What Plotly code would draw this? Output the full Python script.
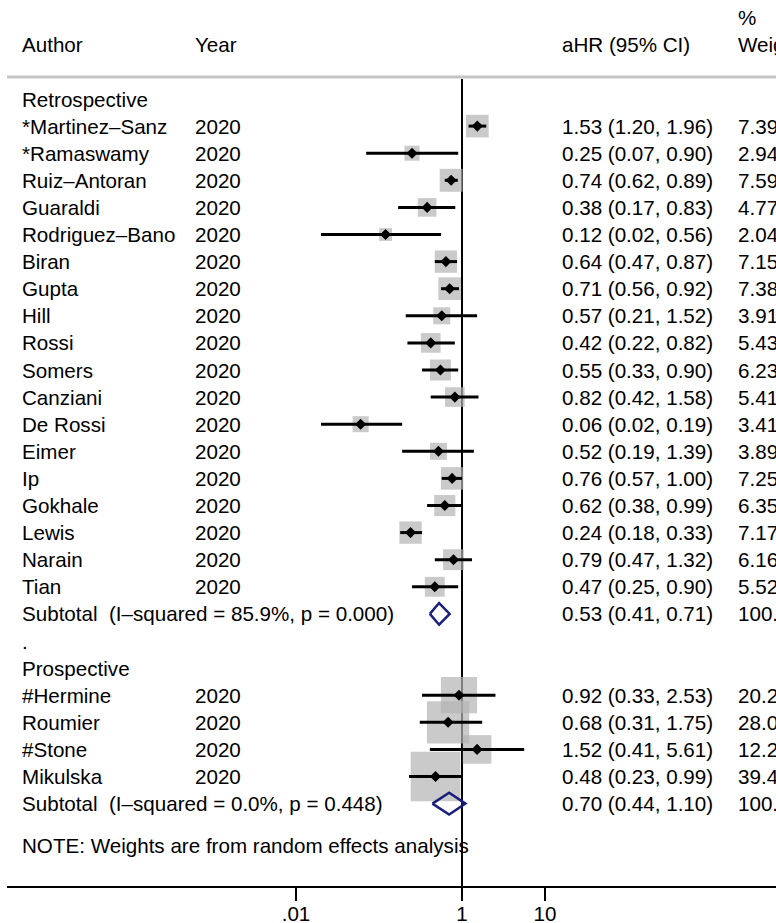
import plotly.graph_objects as go
import numpy as np

# ---------------- data ----------------
retro_authors = ["*Martinez–Sanz", "*Ramaswamy", "Ruiz–Antoran", "Guaraldi", "Rodriguez–Bano",
                 "Biran", "Gupta", "Hill", "Rossi", "Somers", "Canziani", "De Rossi", "Eimer",
                 "Ip", "Gokhale", "Lewis", "Narain", "Tian"]
retro_years = ["2020"] * 18
retro_hr = [1.53, 0.25, 0.74, 0.38, 0.12, 0.64, 0.71, 0.57, 0.42, 0.55, 0.82, 0.06, 0.52, 0.76, 0.62, 0.24, 0.79, 0.47]
retro_lo = [1.20, 0.07, 0.62, 0.17, 0.02, 0.47, 0.56, 0.21, 0.22, 0.33, 0.42, 0.02, 0.19, 0.57, 0.38, 0.18, 0.47, 0.25]
retro_hi = [1.96, 0.90, 0.89, 0.83, 0.56, 0.87, 0.92, 1.52, 0.82, 0.90, 1.58, 0.19, 1.39, 1.00, 0.99, 0.33, 1.32, 0.90]
retro_w = [7.39, 2.94, 7.59, 4.77, 2.04, 7.15, 7.38, 3.91, 5.43, 6.23, 5.41, 3.41, 3.89, 7.25, 6.35, 7.17, 6.16, 5.52]

pro_authors = ["#Hermine", "Roumier", "#Stone", "Mikulska"]
pro_years = ["2020"] * 4
pro_hr = [0.92, 0.68, 1.52, 0.48]
pro_lo = [0.33, 0.31, 0.41, 0.23]
pro_hi = [2.53, 1.75, 5.61, 0.99]
pro_w = [20.24, 28.05, 12.27, 39.44]

sub_labels = ["Subtotal  (I–squared = 85.9%, p = 0.000)", "Subtotal  (I–squared = 0.0%, p = 0.448)"]
sub_hr = [0.53, 0.70]
sub_lo = [0.41, 0.44]
sub_hi = [0.71, 1.10]
sub_w = [100.00, 100.00]

group_labels = ["Retrospective", "Prospective"]
header_labels = ["Author", "Year", "aHR (95% CI)", "%", "Weight"]
note_text = "NOTE: Weights are from random effects analysis"
tick_vals = [0.01, 1, 10]
tick_text = [".01", "1", "10"]

# ---------------- layout helpers ----------------
W, H = 776, 923
ML, MB = 7, 37
ROW0_PX, ROW_PX = 99.0, 27.1
def k_of(py):
    return (py - ROW0_PX) / ROW_PX
def xp(px):
    return (px - ML) / (W - ML)

x_lo_log = (ML - 462) / 83.0
x_hi_log = (W - 462) / 83.0

FONT = "Liberation Sans"
FS = 20.6

# rows
retro_rows = list(range(1, 19))
sub_rows = [19, 26]
pro_rows = list(range(22, 26))
group_rows = [0, 21]

all_hr = retro_hr + pro_hr
all_lo = retro_lo + pro_lo
all_hi = retro_hi + pro_hi
all_w = retro_w + pro_w
all_rows = retro_rows + pro_rows

fig = go.Figure()

# null line
fig.add_trace(go.Scatter(x=[1, 1], y=[k_of(79), k_of(H - MB)], mode="lines",
                         line=dict(color="black", width=2), hoverinfo="skip", showlegend=False,
                         cliponaxis=False))

# weight boxes
fig.add_trace(go.Scatter(x=all_hr, y=all_rows, mode="markers",
                         marker=dict(symbol="square", color="#b4b4b4",
                                     size=[7.6 * np.sqrt(w) + 2 for w in all_w], line=dict(width=0)),
                         hoverinfo="skip", showlegend=False))

# CI lines
cx, cy = [], []
for lo, hi, r in zip(all_lo, all_hi, all_rows):
    cx += [lo, hi, None]
    cy += [r, r, None]
fig.add_trace(go.Scatter(x=cx, y=cy, mode="lines", line=dict(color="black", width=3),
                         hoverinfo="skip", showlegend=False))

# point estimates
fig.add_trace(go.Scatter(x=all_hr, y=all_rows, mode="markers",
                         marker=dict(symbol="diamond", color="black", size=8.5, line=dict(width=0)),
                         hoverinfo="skip", showlegend=False))

# subtotal diamonds
h = 0.4
for est, lo, hi, r in zip(sub_hr, sub_lo, sub_hi, sub_rows):
    fig.add_trace(go.Scatter(x=[lo, est, hi, est, lo], y=[r, r - h, r, r + h, r], mode="lines",
                             line=dict(color="#1a1f7e", width=2.5), hoverinfo="skip", showlegend=False))

ann = []
def txt(px, row, s):
    ann.append(dict(x=xp(px), y=row, xref="paper", yref="y", text=s, showarrow=False,
                    xanchor="left", yanchor="middle", font=dict(family=FONT, size=FS, color="black")))

COL_AUTH, COL_YEAR, COL_EST, COL_W = 20, 193, 560, 736

# header
hr_row = k_of(44)
txt(COL_AUTH, hr_row, header_labels[0])
txt(COL_YEAR, hr_row, header_labels[1])
txt(COL_EST, hr_row, header_labels[2])
txt(COL_W, k_of(17), header_labels[3])
txt(COL_W, hr_row, header_labels[4])

for g, r in zip(group_labels, group_rows):
    txt(COL_AUTH, r, g)
for a, yv, e, lo, hi, w, r in zip(retro_authors + pro_authors, retro_years + pro_years,
                                   all_hr, all_lo, all_hi, all_w, all_rows):
    txt(COL_AUTH, r, a)
    txt(COL_YEAR, r, yv)
    txt(COL_EST, r, f"{e:.2f} ({lo:.2f}, {hi:.2f})")
    txt(COL_W, r, f"{w:.2f}")
for s, e, lo, hi, w, r in zip(sub_labels, sub_hr, sub_lo, sub_hi, sub_w, sub_rows):
    txt(COL_AUTH, r, s)
    txt(COL_EST, r, f"{e:.2f} ({lo:.2f}, {hi:.2f})")
    txt(COL_W, r, f"{w:.2f}")
txt(COL_AUTH, 20, ".")
txt(COL_AUTH, k_of(845), note_text)

shapes = [dict(type="line", xref="paper", yref="y", x0=0, x1=1, y0=k_of(77), y1=k_of(77),
               line=dict(color="#c4c4c4", width=3), layer="below")]

fig.update_layout(
    width=W, height=H,
    margin=dict(l=ML, r=0, t=0, b=MB, autoexpand=False),
    paper_bgcolor="white", plot_bgcolor="white",
    showlegend=False,
    annotations=ann, shapes=shapes,
    xaxis=dict(type="log", range=[x_lo_log, x_hi_log], showgrid=False, zeroline=False,
               showline=True, linecolor="black", linewidth=2,
               ticks="outside", ticklen=13, tickwidth=2, tickcolor="black",
               tickvals=tick_vals, ticktext=tick_text, ticklabelstandoff=-5,
               tickfont=dict(family=FONT, size=FS, color="black"), automargin=False),
    yaxis=dict(range=[k_of(H - MB), k_of(0)], visible=False, showgrid=False, zeroline=False,
               automargin=False),
)

fig.write_html("out.html", config={"displayModeBar": False, "staticPlot": True},
               post_script="document.body.style.margin='0';document.body.style.overflow='hidden';")
